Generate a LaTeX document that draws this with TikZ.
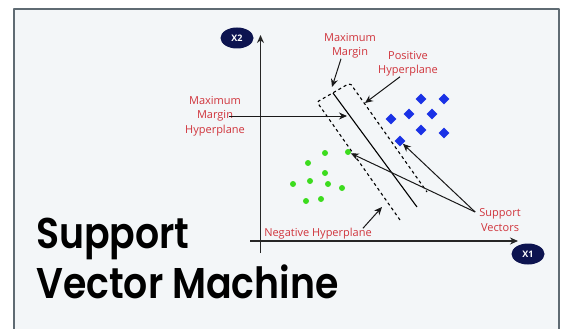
\documentclass[tikz,border=0pt]{standalone}
\usepackage{fontspec}
\setmainfont{Open Sans}
\newfontfamily\titlefont{Poppins SemiBold}[FakeStretch=0.88]
\usepackage{xcolor}
\usetikzlibrary{calc}
\usetikzlibrary{arrows.meta, positioning, shapes.geometric}

\definecolor{framebg}{HTML}{F3F6F8}
\definecolor{framegray}{HTML}{5F6B73}
\definecolor{lblred}{HTML}{D0343C}
\definecolor{axisnavy}{HTML}{0D1450}
\definecolor{dotgreen}{HTML}{3CDC1E}
\definecolor{svmblue}{HTML}{1A32E6}

\tikzset{
  lbl/.style={text=lblred, align=center, inner sep=0pt, font=\fontsize{11}{14.5}\selectfont},
  axislbl/.style={ellipse, fill=axisnavy, text=white, inner sep=0pt,
    minimum width=33pt, minimum height=21pt, font=\fontsize{9}{9}\selectfont\bfseries},
  gdot/.style={circle, fill=dotgreen, inner sep=0pt, minimum size=6pt},
  bdia/.style={diamond, fill=svmblue, inner sep=0pt, minimum size=11pt},
  ptr/.style={->, line width=1pt, black!90},
  ttl/.style={anchor=base west, inner sep=0pt, font=\titlefont\fontsize{43}{50}\selectfont},
}

\begin{document}
\begin{tikzpicture}[x=1pt, y=-1pt, line join=round, >={Stealth[length=8pt, width=7pt]}]
            \useasboundingbox (0,0) rectangle (562,329);
            % frame
            \draw[fill=framebg, draw=framegray, line width=1.5pt] (14,9) rectangle (559,340);

            % axes
            \draw[->, line width=1.3pt, black!85] (260.5,253) -- (260.5,35);
            \draw[->, line width=1.3pt, black!85] (250,241) -- (518,241);
            \node[axislbl] (x2) at (237,38) {X2};
            \node[axislbl] (x1) at (528,254) {X1};

            % negative class
            \foreach \px/\py [count=\i] in {325/153, 348/152, 308/163, 325/173, 293/184,
                                            310/181, 328/184, 342/188, 306/201, 321/199}
              \node[gdot] (g\i) at (\px,\py) {};

            % positive class
            \foreach \px/\py [count=\i] in {421/99, 444/99, 409/114, 432/114,
                                            391/119, 421/130, 444/133, 400/141}
              \node[bdia] (b\i) at (\px,\py) {};

            % margin (dashed) and hyperplane
            \draw[dashed, line width=1.1pt, rounded corners=2pt] (400,220) -- (317,102) -- (350,83) -- (427,192);
            \draw[line width=1.1pt] (333,93) -- (417,207);

            % labels
            \node[lbl] (mm)  at (350,46)  {Maximum\\Margin};
            \node[lbl] (ph)  at (408,64)  {Positive\\Hyperplane};
            \node[lbl] (mmh) at (215,116) {Maximum\\Margin\\Hyperplane};
            \node[lbl] (sv)  at (500,220) {Support\\Vectors};
            \node[lbl] (nh)  at (318,234) {Negative Hyperplane};

            % arrow tips on the margin
            \coordinate (tipmm)  at (332,87);
            \coordinate (tipph)  at (365,103);
            \coordinate (tipmmh) at (347,116);
            \coordinate (tipnh)  at (382,207);
            \coordinate (svfrom) at ([xshift=-4pt, yshift=8pt]sv.west);

            \draw[ptr] ([xshift=-9pt]mm.south) -- (tipmm);
            \draw[ptr] ([xshift=-8pt]ph.south) -- (tipph);
            \draw[ptr] ([xshift=-16pt]mmh.east) -- (tipmmh);
            \draw[ptr] ([xshift=-9pt]nh.north east) -- (tipnh);
            \draw[ptr] (svfrom) -- (g2);
            \draw[ptr] (svfrom) -- (b8);

            % title
            \node[ttl] (t1) at (36,248) {Support};
            \node[ttl] (t2) at (36,298) {Vector Machine};
        \end{tikzpicture}
\end{document}
